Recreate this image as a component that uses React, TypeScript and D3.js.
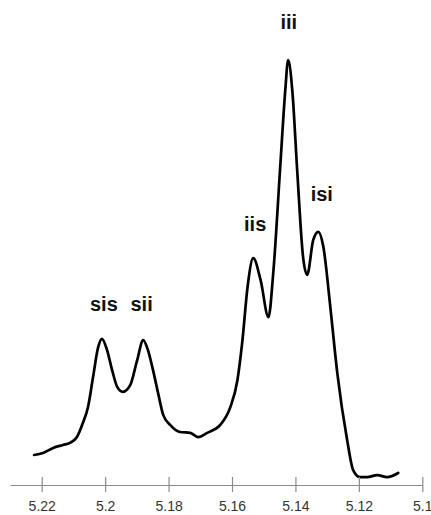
import { useRef, useEffect } from 'react';
import * as d3 from 'd3';

// chemical shift (ppm) and relative intensity
const shifts = [
  5.2224, 5.2196, 5.2164, 5.2133, 5.2111, 5.2089, 5.207, 5.2054, 5.2038, 5.2022,
  5.201, 5.1994, 5.1978, 5.1962, 5.1944, 5.1921, 5.1899, 5.188, 5.1865, 5.1849,
  5.1833, 5.1817, 5.1795, 5.1764, 5.1732, 5.1707, 5.1678, 5.1637, 5.1605, 5.1583,
  5.1567, 5.1551, 5.1533, 5.151, 5.1485, 5.147, 5.1448, 5.1432, 5.1423, 5.141,
  5.1394, 5.1376, 5.1363, 5.1344, 5.1328, 5.1312, 5.129, 5.1268, 5.1237, 5.1218,
  5.1196, 5.1174, 5.1142, 5.1111, 5.1076,
];
const intensity = [
  5.5, 6.0, 7.2, 7.9, 8.4, 9.8, 13.2, 17.0, 24.2, 31.3,
  33.3, 30.6, 25.8, 21.8, 20.6, 22.2, 28.2, 33.0, 30.6, 25.8,
  20.3, 15.1, 12.7, 11.0, 10.8, 9.8, 10.8, 12.7, 17.0, 23.4,
  33.0, 45.7, 52.6, 47.4, 38.5, 49.0, 74.4, 92.8, 100, 92.8,
  73.0, 52.9, 48.6, 56.9, 58.9, 55.3, 40.9, 25.1, 9.1, 1.9,
  0.2, 0.2, 0.7, 0.2, 1.2,
];

// triad labels and where they sit (ppm, intensity of label baseline)
const peakLabels = ['sis', 'sii', 'iis', 'iii', 'isi'];
const labelShifts = [5.2004, 5.1885, 5.1527, 5.1421, 5.1317];
const labelHeights = [40.0, 40.0, 59.1, 107.4, 66.3];

const tickValues = [5.22, 5.2, 5.18, 5.16, 5.14, 5.12, 5.1];

const W = 431;
const H = 515;
const AXIS_Y = 485;

export default function App() {
  const axisRef = useRef<SVGGElement>(null);

  const x = d3.scaleLinear().domain([5.23, 5.1]).range([10, 422.3]);
  const y = d3.scaleLinear().domain([0, 100]).range([478, 60]);

  const points = shifts.map((s, i) => [s, intensity[i]] as [number, number]);
  const line = d3.line<[number, number]>()
    .x((d) => x(d[0]))
    .y((d) => y(d[1]))
    .curve(d3.curveMonotoneX);

  useEffect(() => {
    if (!axisRef.current) return;
    const g = d3.select(axisRef.current);
    g.selectAll('*').remove();
    g.call(
      d3.axisBottom(x)
        .tickValues(tickValues)
        .tickSizeOuter(0)
        .tickSizeInner(15)
        .tickFormat((d) => String(+d))
    );
    g.select('.domain').attr('stroke', '#8a8a8a').attr('stroke-width', 1.2);
    g.selectAll('.tick line')
      .attr('y1', -8)
      .attr('y2', 7)
      .attr('stroke', '#8a8a8a')
      .attr('stroke-width', 1.2);
    g.selectAll('.tick text')
      .attr('y', 26)
      .attr('dy', null)
      .attr('font-family', 'Liberation Sans, Arial, sans-serif')
      .attr('font-size', 14)
      .attr('fill', '#333');
  }, []);

  return (
    <svg
      width={W}
      height={H}
      style={{ position: 'absolute', left: 0, top: 0, background: '#fff' }}
    >
      <path
        d={line(points) ?? ''}
        fill="none"
        stroke="#000"
        strokeWidth={2.7}
        strokeLinejoin="round"
        strokeLinecap="round"
      />
      {peakLabels.map((lab, i) => (
        <text
          key={lab}
          x={x(labelShifts[i])}
          y={y(labelHeights[i])}
          textAnchor="middle"
          fontFamily="Liberation Sans, Arial, sans-serif"
          fontWeight="bold"
          fontSize={20}
          fill="#111"
        >
          {lab}
        </text>
      ))}
      <g ref={axisRef} transform={`translate(0,${AXIS_Y})`} />
    </svg>
  );
}
